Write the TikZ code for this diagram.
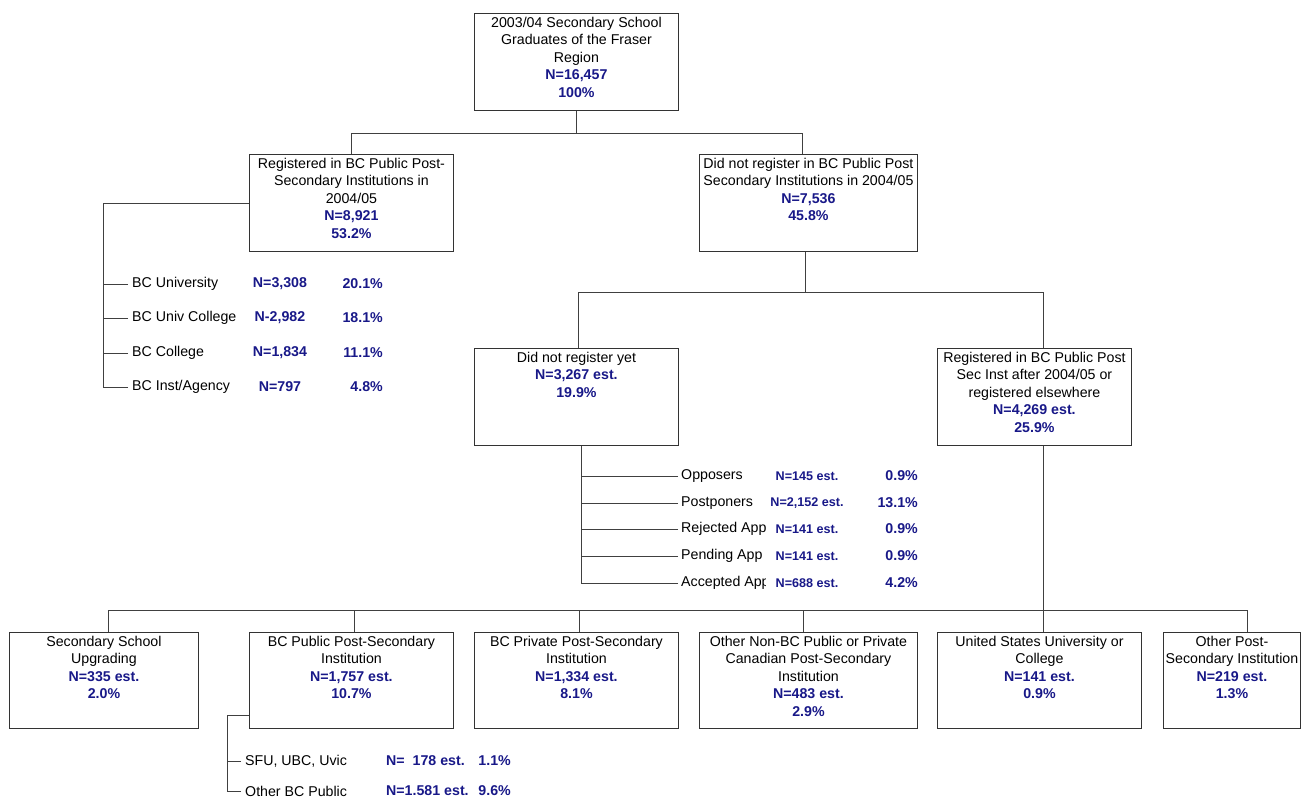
\documentclass[tikz,border=0pt]{standalone}
\usepackage{fontspec}
\setmainfont{Liberation Sans}

\definecolor{navy}{RGB}{24,24,136}
\newcommand{\stat}[1]{\textbf{\color{navy}#1}}
\newcommand{\boxbody}[3]{\parbox[c][#2][t]{#1}{\centering\rule{0pt}{14pt}#3}}

\tikzset{
  gbox/.style={draw=black!80, line width=0.9pt, inner sep=0pt, anchor=north west},
  link/.style={draw=black!75, line width=0.9pt},
  item/.style={anchor=west, inner sep=4pt},
  val/.style={inner sep=0pt, font=\bfseries, text=navy},
  smallval/.style={val, font=\bfseries\fontsize{12.6}{14}\selectfont},
}

\begin{document}
\fontsize{14.2}{17.5}\selectfont
\begin{tikzpicture}[x=1pt, y=-1pt]
\useasboundingbox (0,0) rectangle (1307,801);

% boxes
\node[gbox] (top) at (474,13) {\boxbody{204pt}{97pt}{2003/04 Secondary School\\Graduates of the Fraser\\Region\\\stat{N=16,457}\\\stat{100\%}}};
\node[gbox] (reg) at (249,154) {\boxbody{204pt}{97pt}{Registered in BC Public Post-\\Secondary Institutions in\\2004/05\\\stat{N=8,921}\\\stat{53.2\%}}};
\node[gbox] (notreg) at (699,154) {\boxbody{218pt}{97pt}{Did not register in BC Public Post\\Secondary Institutions in 2004/05\\\stat{N=7,536}\\\stat{45.8\%}}};
\node[gbox] (notyet) at (474,348) {\boxbody{204pt}{97pt}{Did not register yet\\\stat{N=3,267 est.}\\\stat{19.9\%}}};
\node[gbox] (later) at (937,348) {\boxbody{194pt}{97pt}{Registered in BC Public Post\\Sec Inst after 2004/05 or\\registered elsewhere\\\stat{N=4,269 est.}\\\stat{25.9\%}}};

\node[gbox] (upgr) at (9,632) {\boxbody{189pt}{96pt}{Secondary School\\Upgrading\\\stat{N=335 est.}\\\stat{2.0\%}}};
\node[gbox] (bcpub) at (249,632) {\boxbody{204pt}{96pt}{BC Public Post-Secondary\\Institution\\\stat{N=1,757 est.}\\\stat{10.7\%}}};
\node[gbox] (bcpriv) at (474,632) {\boxbody{204pt}{96pt}{BC Private Post-Secondary\\Institution\\\stat{N=1,334 est.}\\\stat{8.1\%}}};
\node[gbox] (othcan) at (699,632) {\boxbody{218pt}{96pt}{Other Non-BC Public or Private\\Canadian Post-Secondary\\Institution\\\stat{N=483 est.}\\\stat{2.9\%}}};
\node[gbox] (usa) at (937,632) {\boxbody{204pt}{96pt}{United States University or\\College\\\stat{N=141 est.}\\\stat{0.9\%}}};
\node[gbox] (othps) at (1163,632) {\boxbody{137pt}{96pt}{Other Post-\\Secondary Institution\\\stat{N=219 est.}\\\stat{1.3\%}}};

% tree links
\draw[link] (top.south) -- ++(0,23) coordinate (split1);
\draw[link] (reg.north) |- (split1) -| ([xshift=-6pt]notreg.north);
\draw[link] ([xshift=-3pt]notreg.south) -- ++(0,41) coordinate (split2);
\draw[link] ([xshift=2pt]notyet.north) |- (split2) -| ([xshift=9pt]later.north);
\draw[link] ([xshift=9pt]later.south) -- ([xshift=9pt]later.south |- usa.north);

% bottom bus
\coordinate (bus) at (0,610);
\foreach \b/\dx in {upgr/4, bcpub/3, bcpriv/3, othcan/-5, othps/15}
  \draw[link] ([xshift=\dx pt]\b.north) -- ([xshift=\dx pt]\b.north |- bus);
\draw[link] ([xshift=4pt]upgr.north |- bus) -- ([xshift=15pt]othps.north |- bus);

% registered in 2004/05
\coordinate (regbar) at (103,0);
\foreach \y/\nm/\lab/\n/\p in {284/univ/BC University/{N=3,308}/20.1,
    318/ucol/BC Univ College/{N-2,982}/18.1, 353/coll/BC College/{N=1,834}/11.1,
    387/inst/{BC Inst/Agency}/N=797/4.8}{
  \node[item] (\nm) at (128,\y) {\lab};
  \node[val] (\nm-n) at (280,\y) {\n};
  \node[val, anchor=east] (\nm-p) at (383,\y) {\p\%};
  \draw[link] (\nm.west) -- (regbar |- \nm.west);
}
\draw[link] (reg.west) -| (regbar |- inst.west);

% did not register yet
\coordinate (nybar) at (581,0);
\foreach \y/\nm/\lab/\n/\p in {476/opp/Opposers/{N=145 est.}/0.9,
    503/post/Postponers/{N=2,152 est.}/13.1, 529/rej/Rejected App/{N=141 est.}/0.9,
    556/pend/Pending App/{N=141 est.}/0.9, 583/acc/Accepted App/{N=688 est.}/4.2}{
  \begin{scope}
    \clip (676,\y-12) rectangle (765,\y+12);
    \node[item, inner sep=3pt] (\nm) at (678,\y) {\lab};
  \end{scope}
  \node[smallval] (\nm-n) at (807,\y) {\n};
  \node[val, anchor=east] (\nm-p) at (918,\y) {\p\%};
  \draw[link] (\nm.west) -- (nybar |- \nm.west);
}
\draw[link] (nybar |- notyet.south) -- (nybar |- acc.west);

% BC public post-secondary split
\coordinate (pubbar) at (227,715);
\foreach \y/\nm/\lab/\n/\p in {761/sfu/{SFU, UBC, Uvic}/{N=\ \ 178 est.}/1.1,
    791/othbc/Other BC Public/{N=1.581 est.}/9.6}{
  \node[item] (\nm) at (241,\y) {\lab};
  \node[val, anchor=west] (\nm-n) at (386,\y) {\n};
  \node[val, anchor=east] (\nm-p) at (511,\y) {\p\%};
  \draw[link] (\nm.west) -- (pubbar |- \nm.west);
}
\draw[link] (pubbar -| bcpub.west) -- (pubbar) -- (pubbar |- othbc.west);
\end{tikzpicture}
\end{document}
